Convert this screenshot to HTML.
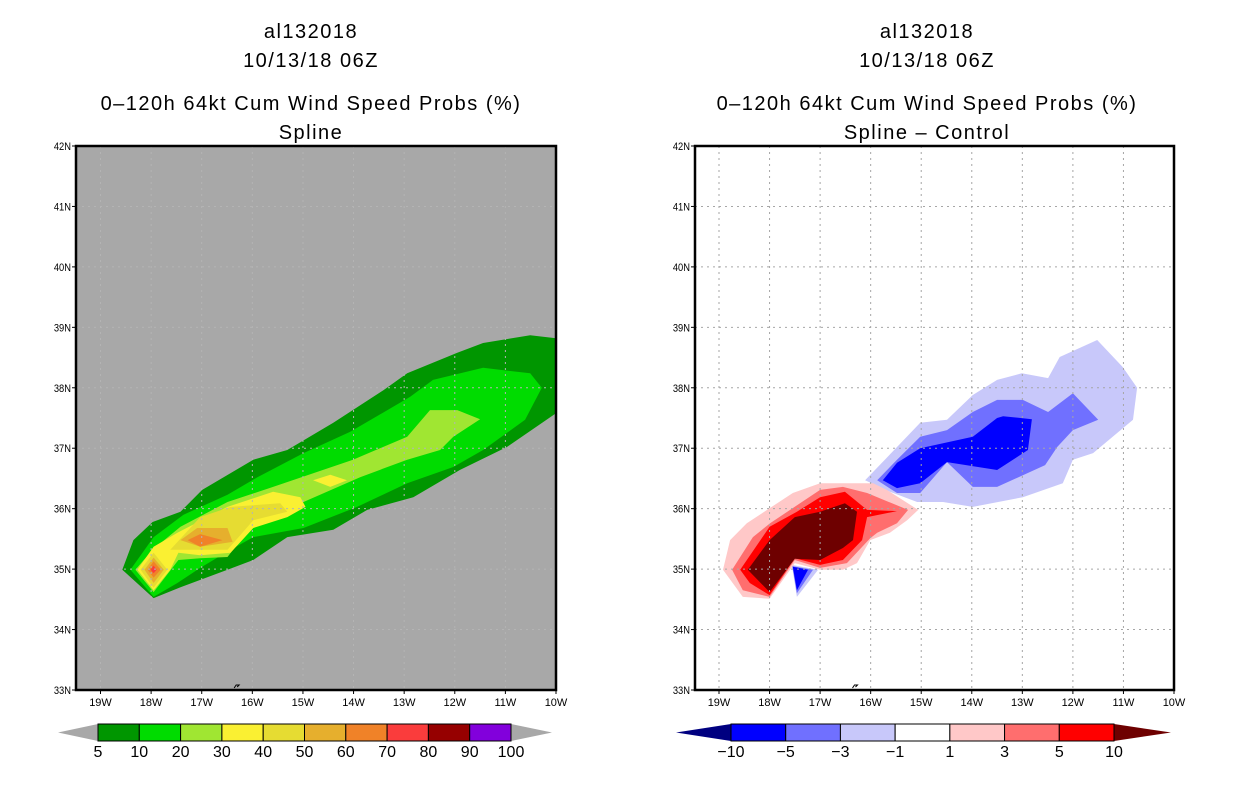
<!DOCTYPE html>
<html><head><meta charset="utf-8">
<style>
html,body{margin:0;padding:0;background:#fff;}
body{width:1236px;height:800px;overflow:hidden;font-family:"Liberation Sans",sans-serif;}
svg text{font-family:"Liberation Sans",sans-serif;}
</style></head>
<body>
<svg id="chart" width="1236" height="800" viewBox="0 0 1236 800" xmlns="http://www.w3.org/2000/svg">
<g font-size="20" text-anchor="middle" fill="#000" letter-spacing="1.5">
<text x="311" y="38">al132018</text>
<text x="311" y="67">10/13/18 06Z</text>
<text x="311" y="110">0–120h 64kt Cum Wind Speed Probs (%)</text>
<text x="311" y="139">Spline</text>
</g>
<g font-size="20" text-anchor="middle" fill="#000" letter-spacing="1.5">
<text x="927" y="38">al132018</text>
<text x="927" y="67">10/13/18 06Z</text>
<text x="927" y="110">0–120h 64kt Cum Wind Speed Probs (%)</text>
<text x="927" y="139">Spline – Control</text>
</g>
<g id="left"></g>
<g id="right"></g>
<g id="cbl"></g>
<g id="cbr"></g>
</svg>
<script>
// ---- axes data ----
const lonTicks = [19,18,17,16,15,14,13,12,11,10];
const latTicks = [33,34,35,36,37,38,39,40,41,42];

// ---- left panel contour polygons [lonW, latN] ----
const p5 = [[18.57,34.99],[18.35,35.48],[17.97,35.78],[17.42,35.95],[16.99,36.31],[15.98,36.81],[15.31,36.97],[14.40,37.42],[13.41,37.96],[12.94,38.24],[11.95,38.58],[11.44,38.74],[10.51,38.87],[10.0,38.82],[10.0,37.58],[10.97,37.02],[11.90,36.64],[12.82,36.19],[13.73,35.98],[14.40,35.65],[15.31,35.53],[15.98,35.15],[16.49,34.99],[17.42,34.70],[17.95,34.52]];
const p10 = [[18.41,34.99],[17.95,35.53],[17.36,35.90],[16.49,36.23],[15.90,36.52],[14.99,36.92],[14.07,37.27],[12.88,37.85],[12.43,38.13],[11.44,38.33],[10.51,38.24],[10.28,38.00],[10.61,37.47],[11.44,36.97],[12.03,36.69],[12.94,36.42],[13.93,36.03],[14.99,35.68],[15.98,35.53],[16.43,35.32],[17.03,35.02],[17.48,34.77],[17.95,34.54]];
const p20 = [[18.31,34.99],[17.97,35.32],[17.42,35.70],[16.49,36.11],[15.59,36.36],[14.01,36.81],[12.94,37.19],[12.49,37.63],[11.95,37.63],[11.50,37.48],[12.03,37.19],[12.29,36.97],[12.94,36.81],[13.87,36.52],[14.99,36.11],[15.98,35.76],[16.49,35.20],[17.03,35.18],[17.46,35.15],[17.95,34.62]];
const p30 = [[18.27,34.99],[17.95,35.37],[17.48,35.60],[16.49,36.03],[15.59,36.28],[15.05,36.19],[14.95,36.03],[15.31,35.86],[15.98,35.68],[16.43,35.27],[17.03,35.23],[17.46,35.27],[17.62,34.99],[17.95,34.65]];
const p30b = [[14.80,36.47],[14.46,36.56],[14.13,36.47],[14.46,36.36]];
const p40 = [[17.62,35.32],[17.03,35.86],[16.43,36.03],[15.45,36.09],[15.31,35.95],[15.98,35.81],[16.49,35.32],[17.03,35.32]];
const p40b = [[18.21,34.99],[17.95,35.27],[17.68,34.99],[17.95,34.69]];
const p50 = [[17.42,35.48],[17.09,35.68],[16.49,35.68],[16.39,35.45],[17.03,35.37]];
const p50b = [[18.13,34.99],[17.95,35.19],[17.75,34.99],[17.95,34.77]];
const p60 = [[17.28,35.48],[17.03,35.58],[16.59,35.48],[17.03,35.37]];
const p60b = [[18.07,34.99],[17.95,35.13],[17.81,34.99],[17.95,34.86]];
const p70b = [[18.01,34.99],[17.95,35.06],[17.89,34.99],[17.95,34.93]];

// ---- right panel contour polygons [lonW, latN] ----
const n1 = [[16.11,36.47],[15.02,37.42],[14.49,37.47],[13.98,37.88],[13.50,38.13],[13.01,38.24],[12.49,38.16],[12.26,38.51],[11.52,38.79],[11.01,38.34],[10.73,38.00],[10.81,37.47],[11.60,36.92],[12.00,36.81],[12.20,36.42],[12.99,36.19],[13.98,36.03],[14.57,36.11],[15.08,36.11],[15.62,36.28]];
const n3 = [[15.87,36.47],[15.48,36.81],[15.02,37.19],[14.49,37.30],[13.98,37.60],[13.50,37.80],[12.99,37.80],[12.49,37.60],[12.00,37.91],[11.50,37.47],[12.00,37.30],[12.31,37.02],[12.55,36.72],[13.50,36.36],[13.98,36.36],[14.49,36.77],[15.02,36.26],[15.48,36.26]];
const n5 = [[15.76,36.47],[15.48,36.76],[15.02,37.00],[13.98,37.19],[13.50,37.50],[13.38,37.53],[12.81,37.48],[12.89,36.97],[13.50,36.64],[14.49,36.77],[15.02,36.42],[15.48,36.34]];
const n1s = [[17.56,35.07],[17.04,34.99],[17.46,34.54]];
const n3s = [[17.55,35.05],[17.14,34.99],[17.46,34.60]];
const n5s = [[17.54,35.04],[17.24,34.99],[17.46,34.65]];
const q1 = [[18.92,34.99],[18.78,35.48],[18.45,35.76],[17.54,36.26],[17.00,36.42],[15.95,36.42],[15.68,36.31],[15.06,35.98],[15.28,35.81],[15.62,35.60],[16.01,35.48],[16.27,35.10],[16.55,34.99],[17.00,34.99],[17.50,35.10],[18.00,34.51],[18.53,34.54]];
const q3 = [[18.74,34.99],[18.33,35.53],[17.99,35.76],[17.00,36.31],[16.55,36.36],[16.07,36.26],[15.26,35.98],[15.48,35.76],[15.87,35.60],[16.01,35.51],[16.47,35.10],[17.00,35.02],[17.50,35.15],[18.00,34.54],[18.53,34.65]];
const q5 = [[18.58,34.99],[18.00,35.70],[17.46,35.95],[17.00,36.19],[16.51,36.28],[16.07,35.98],[15.48,35.96],[16.07,35.86],[16.17,35.48],[16.55,35.15],[17.00,35.07],[17.50,35.18],[18.00,34.57],[18.39,34.77]];
const q10 = [[18.43,34.99],[18.00,35.48],[17.50,35.86],[17.00,35.95],[16.51,36.09],[16.27,35.95],[16.35,35.48],[16.55,35.35],[17.00,35.15],[17.50,35.17],[18.00,34.62]];

// ---- colorbars ----
const leftLevels = ['5','10','20','30','40','50','60','70','80','90','100'];
const leftColors = ['#009600','#00dc00','#a0e632','#faf032','#e6dc32','#e6af2d','#f08228','#fa3c3c','#960000','#8200dc'];
const rightLevels = ['−10','−5','−3','−1','1','3','5','10'];
const rightColors = ['#0000ff','#7070ff','#c8c8fa','#ffffff','#ffc8c8','#ff6e6e','#ff0000'];

const NS='http://www.w3.org/2000/svg';
function mk(tag, attrs, parent){const e=document.createElementNS(NS,tag);for(const k in attrs)e.setAttribute(k,attrs[k]);parent.appendChild(e);return e;}

const top_=146, bot=690;
function yS(lat){return bot-(lat-33)*(bot-top_)/9;}

function panel(g, x0, x19, x10, bg, gridCol, polys, pname){
  const xS = lonW => x19 + (19-lonW)*(x10-x19)/9;
  const bgR = mk('rect',{x:x0,y:top_,width:x10-x0,height:bot-top_,fill:bg},g);
  
  
  polys.forEach(([pts,col,nm])=>{
    const p = mk('polygon',{points:pts.map(d=>xS(d[0]).toFixed(1)+','+yS(d[1]).toFixed(1)).join(' '),fill:col},g);
    
    
  });
  lonTicks.forEach(l=>{ if(l<19.4&&l>10){const ln=mk('line',{x1:xS(l),x2:xS(l),y1:top_,y2:bot,stroke:gridCol,'stroke-dasharray':'2,4'},g);
    
    }});
  latTicks.forEach(l=>{ if(l>33&&l<42){const ln=mk('line',{x1:x0,x2:x10,y1:yS(l),y2:yS(l),stroke:gridCol,'stroke-dasharray':'2,4'},g);
    
    }});
  const c=mk('path',{d:`M${xS(16.3)-3},${bot-2} l2,-3 l3,0 l-2,2`,fill:'none',stroke:'#000','stroke-width':1},g);
  
  
  const b=mk('rect',{x:x0,y:top_,width:x10-x0,height:bot-top_,fill:'none',stroke:'#000','stroke-width':2.5},g);
  
  
  latTicks.forEach(l=>{
    mk('line',{x1:x0-4,x2:x0,y1:yS(l),y2:yS(l),stroke:'#000','stroke-width':1},g);
    const t=mk('text',{x:x0-5,y:yS(l)+4,'font-size':11,'text-anchor':'end',fill:'#000',transform:`translate(${x0-5},0) scale(0.85,1) translate(${-(x0-5)},0)`},g);
    t.textContent=l+'N';
    
    
  });
  lonTicks.forEach(l=>{
    mk('line',{x1:xS(l),x2:xS(l),y1:bot,y2:bot+4,stroke:'#000','stroke-width':1},g);
    const t=mk('text',{x:xS(l),y:bot+16,'font-size':11,'text-anchor':'middle',fill:'#000'},g);
    t.textContent=l+'W';
    
    
  });
}

panel(document.getElementById('left'),76,100.5,556,'#a8a8a8','#b4b4b4',[
 [p5,leftColors[0],'contour-5'],[p10,leftColors[1],'contour-10'],[p20,leftColors[2],'contour-20'],
 [p30,leftColors[3],'contour-30'],[p30b,leftColors[3],'contour-30-spot'],
 [p40,leftColors[4],'contour-40'],[p40b,leftColors[4],'contour-40-tip'],
 [p50,leftColors[5],'contour-50'],[p50b,leftColors[5],'contour-50-tip'],
 [p60,leftColors[6],'contour-60'],[p60b,leftColors[6],'contour-60-tip'],
 [p70b,leftColors[7],'contour-70-tip']],'left');

panel(document.getElementById('right'),695,719,1174,'#ffffff','#a6a6a6',[
 [n1,rightColors[2],'diff-neg-1'],[n3,rightColors[1],'diff-neg-3'],[n5,rightColors[0],'diff-neg-5'],
 [n1s,rightColors[2],'diff-neg-1-small'],[n3s,rightColors[1],'diff-neg-3-small'],[n5s,rightColors[0],'diff-neg-5-small'],
 [q1,rightColors[4],'diff-pos-1'],[q3,rightColors[5],'diff-pos-3'],[q5,rightColors[6],'diff-pos-5'],[q10,'#6e0000','diff-pos-10']],'right');

function colorbar(g, tipL, bx0, bx1, tipR, colors, levels, triL, triR){
  const y0=724,y1=741,ym=732.5,w=(bx1-bx0)/colors.length;
  const tl=mk('polygon',{points:`${tipL},${ym} ${bx0},${y0} ${bx0},${y1}`,fill:triL},g);
  
  
  const tr=mk('polygon',{points:`${tipR},${ym} ${bx1},${y0} ${bx1},${y1}`,fill:triR},g);
  
  
  colors.forEach((c,i)=>{
    const r=mk('rect',{x:bx0+i*w,y:y0,width:w,height:y1-y0,fill:c,stroke:'#000','stroke-width':1},g);
    
    
  });
  levels.forEach((l,i)=>{
    const t=mk('text',{x:bx0+i*w,y:757,'font-size':16,'text-anchor':'middle',fill:'#000'},g);
    t.textContent=l;
    
    
  });
}
colorbar(document.getElementById('cbl'),58,98,511,552,leftColors,leftLevels,'#a8a8a8','#a8a8a8');
colorbar(document.getElementById('cbr'),676,731,1114,1171,rightColors,rightLevels,'#000080','#6e0000');
</script>
</body></html>
